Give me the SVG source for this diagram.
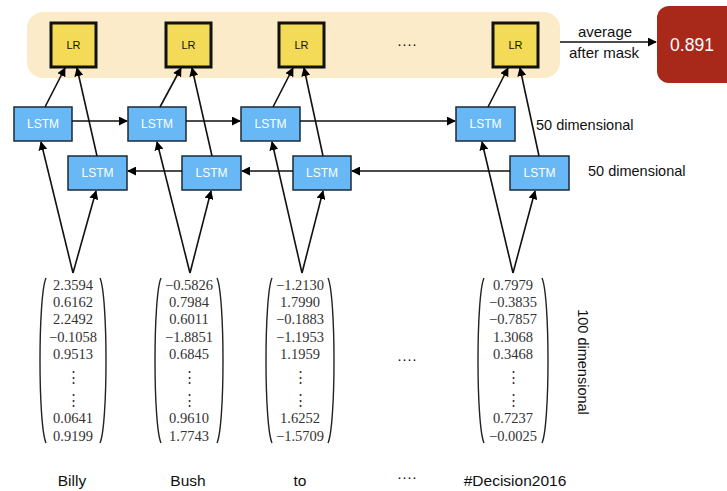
<svg xmlns="http://www.w3.org/2000/svg" width="727" height="491" viewBox="0 0 727 491">
<defs>
<marker id="ah" viewBox="0 0 10 10" refX="9" refY="5" markerWidth="9" markerHeight="9" markerUnits="userSpaceOnUse" orient="auto"><path d="M0,0 L10,5 L0,10 z" fill="#000"/></marker>
<style>
.lr rect{fill:#f3db58;stroke:#111;stroke-width:3}
.lr text{font-family:"Liberation Sans",Arial,sans-serif;font-size:11px;fill:#111;text-anchor:middle}
.ls rect{fill:#68b8f6;stroke:#1d2a38;stroke-width:1.5}
.ls text{font-family:"Liberation Sans",Arial,sans-serif;font-size:12px;fill:#fff;text-anchor:middle}
.conn line{stroke:#111;stroke-width:1.6;fill:none}
.conn .a{marker-end:url(#ah)}
.num{font-family:"Liberation Serif","Times New Roman",serif;font-size:14.5px;fill:#333;text-anchor:middle}
.par{fill:none;stroke:#222;stroke-width:1.4}
.lab{font-family:"Liberation Sans",Arial,sans-serif;fill:#111}
.word{font-family:"Liberation Sans",Arial,sans-serif;font-size:15.5px;fill:#111;text-anchor:middle}
</style>
</defs>
<rect x="27" y="12" width="533" height="66" rx="16" fill="#fbebc8"/>
<g id="lr1" class="lr"><rect x="51" y="23" width="45" height="44"/><text x="73.5" y="49">LR</text></g>
<g id="lr2" class="lr"><rect x="166" y="23" width="45" height="44"/><text x="188.5" y="49">LR</text></g>
<g id="lr3" class="lr"><rect x="279" y="23" width="45" height="44"/><text x="301.5" y="49">LR</text></g>
<g id="lr4" class="lr"><rect x="493" y="23" width="45" height="44"/><text x="515.5" y="49">LR</text></g>
<text x="407" y="49" class="word" style="font-size:15px">····</text>
<g id="f1" class="ls"><rect x="14" y="107" width="58" height="34"/><text x="43" y="128">LSTM</text></g>
<g id="f2" class="ls"><rect x="128" y="107" width="58" height="34"/><text x="157" y="128">LSTM</text></g>
<g id="f3" class="ls"><rect x="241" y="107" width="59" height="34"/><text x="270.5" y="128">LSTM</text></g>
<g id="f4" class="ls"><rect x="456" y="107" width="59" height="34"/><text x="485.5" y="128">LSTM</text></g>
<g id="b1" class="ls"><rect x="68" y="156" width="59" height="34"/><text x="97.5" y="177">LSTM</text></g>
<g id="b2" class="ls"><rect x="182" y="156" width="59" height="34"/><text x="211.5" y="177">LSTM</text></g>
<g id="b3" class="ls"><rect x="293" y="156" width="58" height="34"/><text x="322" y="177">LSTM</text></g>
<g id="b4" class="ls"><rect x="510" y="156" width="59" height="34"/><text x="539.5" y="177">LSTM</text></g>
<g id="out"><rect x="657" y="6" width="90" height="77" rx="12" fill="#a8281a"/><text x="692" y="51" class="lab" style="font-size:17.5px;fill:#fff;text-anchor:middle">0.891</text></g>
<g id="connectors" class="conn">
<line class="a" x1="72" y1="121" x2="127" y2="121"/>
<line class="a" x1="186" y1="121" x2="240" y2="121"/>
<line class="a" x1="300" y1="121" x2="455" y2="121"/>
<line class="a" x1="182" y1="171" x2="128" y2="171"/>
<line class="a" x1="293" y1="171" x2="242" y2="171"/>
<line class="a" x1="510" y1="171" x2="352" y2="171"/>
<line class="a" x1="45" y1="107" x2="65" y2="68"/>
<line class="a" x1="97" y1="156" x2="77" y2="68"/>
<line class="a" x1="160" y1="107" x2="181" y2="68"/>
<line class="a" x1="212" y1="156" x2="192" y2="68"/>
<line class="a" x1="273" y1="107" x2="293" y2="68"/>
<line class="a" x1="323" y1="156" x2="304" y2="68"/>
<line class="a" x1="488" y1="107" x2="508" y2="68"/>
<line class="a" x1="539" y1="156" x2="520" y2="68"/>
<line class="a" x1="73" y1="273" x2="41" y2="142"/>
<line class="a" x1="73" y1="273" x2="96" y2="191"/>
<line class="a" x1="190" y1="273" x2="157" y2="142"/>
<line class="a" x1="190" y1="273" x2="211" y2="191"/>
<line class="a" x1="302" y1="273" x2="272" y2="142"/>
<line class="a" x1="302" y1="273" x2="323" y2="191"/>
<line class="a" x1="513" y1="273" x2="482" y2="142"/>
<line class="a" x1="513" y1="273" x2="535" y2="191"/>
<line class="a" x1="560" y1="42" x2="656" y2="42"/>
</g>
<text x="605" y="37" class="lab" style="font-size:15px;text-anchor:middle">average</text>
<text x="604" y="58" class="lab" style="font-size:15px;text-anchor:middle">after mask</text>
<text x="536" y="130" class="lab" style="font-size:14.5px">50 dimensional</text>
<text x="588" y="176" class="lab" style="font-size:14.5px">50 dimensional</text>
<text transform="translate(578,362) rotate(90)" class="lab" style="font-size:14.5px;text-anchor:middle">100 dimensional</text>
<g id="v1">
<path class="par" d="M46,278 C38,296 38,425 46,443"/><path class="par" d="M100,278 C108,296 108,425 100,443"/>
<g class="num"><text x="73" y="290">2.3594</text><text x="73" y="307">0.6162</text><text x="73" y="324">2.2492</text><text x="73" y="342">−0.1058</text><text x="73" y="359">0.9513</text><text x="73" y="382">⋮</text><text x="73" y="405">⋮</text><text x="73" y="423">0.0641</text><text x="73" y="441">0.9199</text></g>
</g>
<g id="v2">
<path class="par" d="M161,278 C153,296 153,425 161,443"/><path class="par" d="M217,278 C225,296 225,425 217,443"/>
<g class="num"><text x="189" y="290">−0.5826</text><text x="189" y="307">0.7984</text><text x="189" y="324">0.6011</text><text x="189" y="342">−1.8851</text><text x="189" y="359">0.6845</text><text x="189" y="382">⋮</text><text x="189" y="405">⋮</text><text x="189" y="423">0.9610</text><text x="189" y="441">1.7743</text></g>
</g>
<g id="v3">
<path class="par" d="M272,278 C264,296 264,425 272,443"/><path class="par" d="M328,278 C336,296 336,425 328,443"/>
<g class="num"><text x="300" y="290">−1.2130</text><text x="300" y="307">1.7990</text><text x="300" y="324">−0.1883</text><text x="300" y="342">−1.1953</text><text x="300" y="359">1.1959</text><text x="300" y="382">⋮</text><text x="300" y="405">⋮</text><text x="300" y="423">1.6252</text><text x="300" y="441">−1.5709</text></g>
</g>
<g id="v4">
<path class="par" d="M484,278 C476,296 476,425 484,443"/><path class="par" d="M542,278 C550,296 550,425 542,443"/>
<g class="num"><text x="513" y="290">0.7979</text><text x="513" y="307">−0.3835</text><text x="513" y="324">−0.7857</text><text x="513" y="342">1.3068</text><text x="513" y="359">0.3468</text><text x="513" y="382">⋮</text><text x="513" y="405">⋮</text><text x="513" y="423">0.7237</text><text x="513" y="441">−0.0025</text></g>
</g>
<text x="407" y="364" class="word" style="font-size:15px">····</text>
<text x="72" y="486" class="word">Billy</text>
<text x="188" y="486" class="word">Bush</text>
<text x="300" y="486" class="word">to</text>
<text x="407" y="482" class="word" style="font-size:15px">····</text>
<text x="515" y="486" class="word">#Decision2016</text>
</svg>
